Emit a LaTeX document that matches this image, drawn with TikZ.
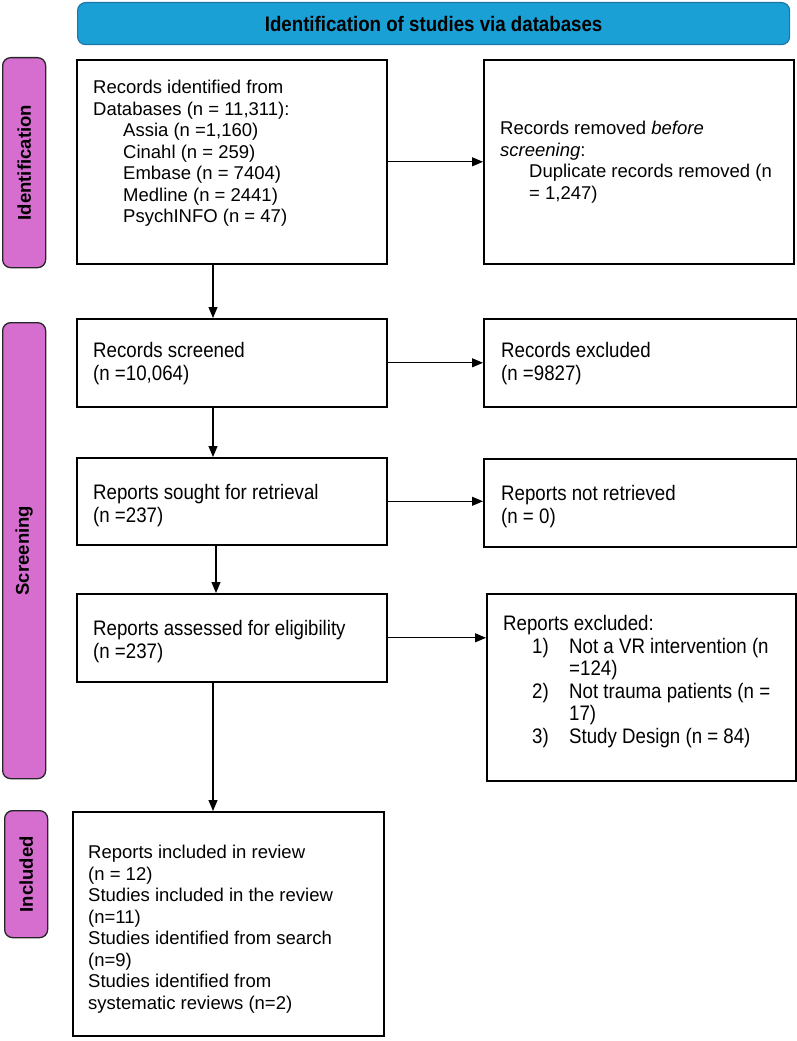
\documentclass[tikz,border=0pt]{standalone}
\usepackage{fontspec}
\setmainfont{Liberation Sans}
\newfontfamily\narrowfont{Liberation Sans}[FakeStretch=0.89]
\usetikzlibrary{arrows.meta}
\definecolor{phasefill}{RGB}{214,110,208}
\definecolor{hdrfill}{RGB}{27,160,214}
\definecolor{hdrdraw}{RGB}{30,118,168}
\tikzset{
  boxnode/.style={draw=black, line width=1.6pt, fill=white, anchor=north west, inner sep=0pt},
  phasebar/.style={draw=black!85, line width=1.3pt, fill=phasefill, rounded corners=8pt, anchor=north west, inner sep=0pt},
  phaselabel/.style={rotate=90, font=\fontsize{18.5}{21}\selectfont\bfseries},
  hdrbox/.style={draw=hdrdraw, line width=1.2pt, fill=hdrfill, rounded corners=8pt, anchor=north west, inner sep=0pt},
  hdrtext/.style={font=\narrowfont\bfseries\fontsize{21}{24}\selectfont},
  txt/.style={anchor=north west, inner sep=0pt, align=left, font=\fontsize{18.5}{21.5}\selectfont},
  ntxt/.style={anchor=north west, inner sep=0pt, align=left, font=\narrowfont\fontsize{21}{22.6}\selectfont},
  arr/.style={line width=1.1pt, -{Triangle[length=11pt,width=9pt]}}
}
\begin{document}
\begin{tikzpicture}[x=1pt,y=-1pt]
\useasboundingbox (0,0) rectangle (797,1041);

% header
\node[hdrbox, minimum width=712pt, minimum height=42pt] (hdr) at (77,2) {};
\node[hdrtext] (hdrt) at (hdr.center) {Identification of studies via databases};

% phase bars
\node[phasebar, minimum width=43pt, minimum height=210pt] (pid) at (2,57) {};
\node[phaselabel] (pidt) at (pid.center) {Identification};
\node[phasebar, minimum width=43pt, minimum height=456pt] (pscr) at (2,322) {};
\node[phaselabel] (pscrt) at (pscr.center) {Screening};
\node[phasebar, minimum width=43pt, minimum height=127pt] (pinc) at (4,810) {};
\node[phaselabel] (pinct) at (pinc.center) {Included};

% boxes
\node[boxnode, minimum width=310pt, minimum height=204pt] (b1) at (76,59) {};
\node[boxnode, minimum width=310pt, minimum height=204pt] (b2) at (483,59) {};
\node[boxnode, minimum width=310pt, minimum height=88pt] (b3) at (76,318) {};
\node[boxnode, minimum width=313pt, minimum height=88pt] (b4) at (483,318) {};
\node[boxnode, minimum width=310pt, minimum height=87pt] (b5) at (76,457) {};
\node[boxnode, minimum width=313pt, minimum height=88pt] (b6) at (483,458) {};
\node[boxnode, minimum width=310pt, minimum height=88pt] (b7) at (76,593) {};
\node[boxnode, minimum width=309pt, minimum height=187pt] (b8) at (486,593) {};
\node[boxnode, minimum width=311pt, minimum height=224pt] (b9) at (72,811) {};

% texts
\node[txt] (t1) at (93,80) {Records identified from\\Databases (n = 11,311):\\
\hspace*{30pt}Assia (n =1,160)\\
\hspace*{30pt}Cinahl (n = 259)\\
\hspace*{30pt}Embase (n = 7404)\\
\hspace*{30pt}Medline (n = 2441)\\
\hspace*{30pt}PsychINFO (n = 47)};
\node[txt] (t2) at (500,121) {Records removed \textit{before}\\\textit{screening}:\\
\hspace*{29pt}Duplicate records removed (n\\
\hspace*{29pt}= 1,247)};
\node[ntxt] (t3) at (93,342) {Records screened\\(n =10,064)};
\node[ntxt] (t4) at (501,342) {Records excluded\\(n =9827)};
\node[ntxt] (t5) at (93,484) {Reports sought for retrieval\\(n =237)};
\node[ntxt] (t6) at (501,485) {Reports not retrieved\\(n = 0)};
\node[ntxt] (t7) at (93,620) {Reports assessed for eligibility\\(n =237)};
\node[ntxt] (t8) at (503,615) {Reports excluded:\\
\hspace*{29pt}\makebox[37pt][l]{1)}Not a VR intervention (n\\
\hspace*{66pt}=124)\\
\hspace*{29pt}\makebox[37pt][l]{2)}Not trauma patients (n =\\
\hspace*{66pt}17)\\
\hspace*{29pt}\makebox[37pt][l]{3)}Study Design (n = 84)};
\node[txt] (t9) at (88,845) {Reports included in review\\(n = 12)\\Studies included in the review\\(n=11)\\Studies identified from search\\(n=9)\\Studies identified from\\systematic reviews (n=2)};

% connectors
\draw[arr] (b1.east) -- (b2.west);
\draw[arr] (b3.east) -- (b3.east -| b4.west);
\draw[arr] (b5.east) -- (b5.east -| b6.west);
\draw[arr] (b7.east) -- (b7.east -| b8.west);
\draw[arr] ([xshift=137pt]b1.south west) -- ([xshift=137pt]b3.north west);
\draw[arr] ([xshift=137pt]b3.south west) -- ([xshift=137pt]b5.north west);
\draw[arr] ([xshift=140pt]b5.south west) -- ([xshift=140pt]b7.north west);
\draw[arr] ([xshift=137pt]b7.south west) -- ([xshift=137pt]b7.south west |- b9.north);
\end{tikzpicture}
\end{document}
